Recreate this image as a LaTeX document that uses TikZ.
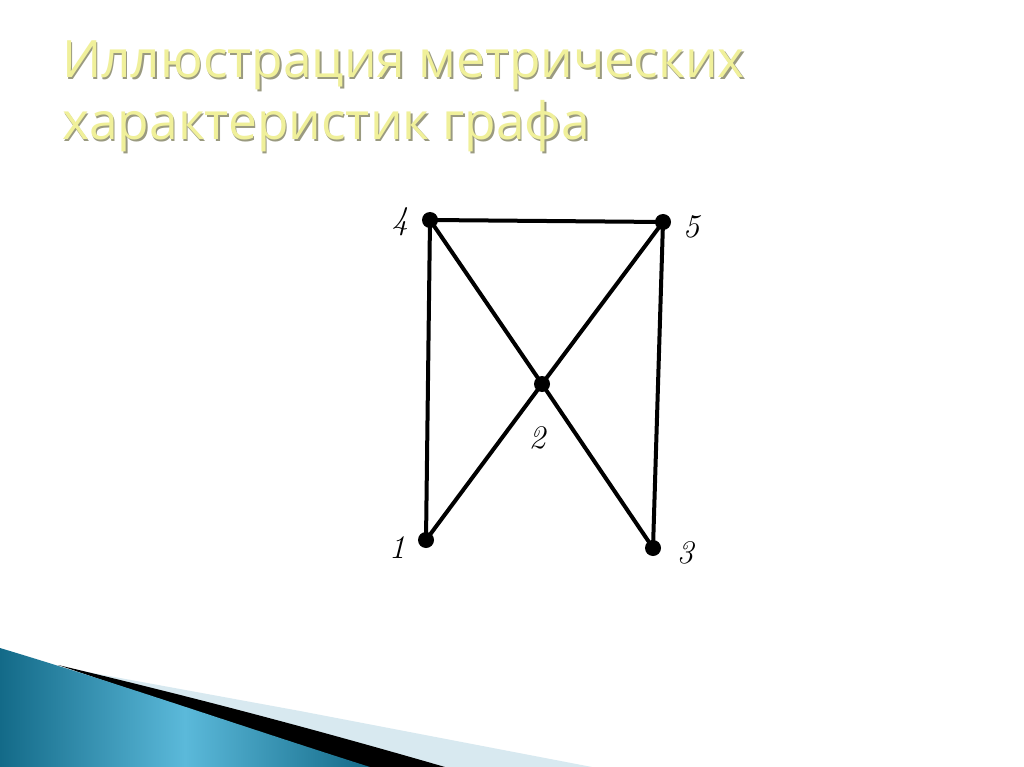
\documentclass[tikz,border=0pt]{standalone}
\usepackage{fontspec}
\newfontfamily\titlefont{Open Sans}
\usetikzlibrary{shadings}
\definecolor{titleyellow}{HTML}{F0F09A}
\definecolor{titleshadow}{HTML}{9A9A80}
\definecolor{tealdark}{HTML}{136A88}
\definecolor{teallight}{HTML}{5BB9DA}
\definecolor{palestripe}{HTML}{D8E9F0}
\tikzset{
  vtx/.style={circle,fill=black,inner sep=0pt,minimum size=16pt},
  lbl/.style={font=\fontsize{33}{35}\selectfont\itshape,inner sep=0pt},
  edge/.style={line width=4pt,black},
  ttl/.style={font=\titlefont\fontsize{51.5}{60}\selectfont,anchor=base west,inner sep=0pt}
}
\begin{document}
\begin{tikzpicture}[x=1pt,y=-1pt]
\useasboundingbox (0,0) rectangle (1024,767);
\fill[white] (0,0) rectangle (1024,767);
% title
\foreach \t/\yy in {{Иллюстрация метрических}/78,{характеристик графа}/140}{
  \node[ttl,text=titleshadow] at (63.5,\yy+1.5) {\t};
  \node[ttl,text=titleyellow] at (62,\yy) {\t};
}
% decoration bottom-left
\fill[palestripe] (60,667) -- (300,711) -- (592,767) -- (360,767) -- cycle;
\fill[black] (58,665) .. controls (180,694) and (300,725) .. (445,767) -- (360,767) -- cycle;
\shade[left color=tealdark,right color=tealdark,middle color=teallight]
  (0,648) .. controls (120,684) and (250,729) .. (370,767) -- (0,767) -- cycle;
% graph
\node[vtx] (n4) at (430,220) {};
\node[vtx] (n5) at (663,222) {};
\node[vtx] (n2) at (542,384) {};
\node[vtx] (n1) at (426,540) {};
\node[vtx] (n3) at (653,548) {};
\draw[edge] (n4.center) -- (n5.center);
\draw[edge] (n4.center) -- (n1.center);
\draw[edge] (n5.center) -- (n3.center);
\draw[edge] (n4.center) -- (n2.center);
\draw[edge] (n2.center) -- (n3.center);
\draw[edge] (n5.center) -- (n2.center);
\draw[edge] (n2.center) -- (n1.center);
\node[lbl] (l4) at (400,222) {4};
\node[lbl] (l5) at (691,227) {5};
\node[lbl] (l2) at (537,438) {2};
\node[lbl] (l1) at (397,548) {1};
\node[lbl] (l3) at (685,553) {3};
\end{tikzpicture}
\end{document}
